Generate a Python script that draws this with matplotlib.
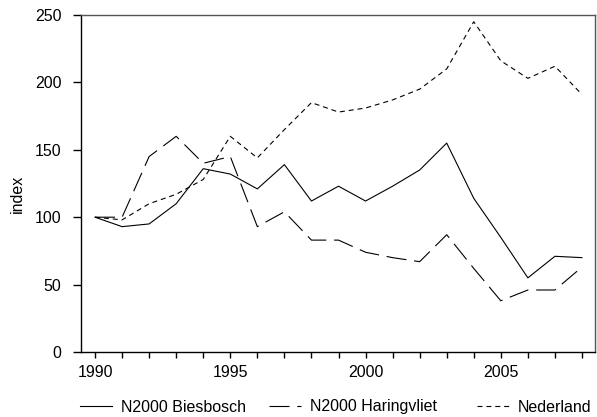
import matplotlib
matplotlib.use("Agg")
import matplotlib.pyplot as plt

years = list(range(1990, 2009))
biesbosch = [100, 93, 95, 110, 136, 132, 121, 139, 112, 123, 112, 123, 135, 155, 114, 85, 55, 71, 70]
haringvliet = [100, 100, 145, 160, 140, 145, 93, 104, 83, 83, 74, 70, 67, 87, 62, 38, 46, 46, 63]
nederland = [100, 98, 110, 117, 128, 160, 144, 165, 185, 178, 181, 187, 195, 210, 245, 216, 203, 212, 191]
labels = ["N2000 Biesbosch", "N2000 Haringvliet", "Nederland"]
xticklabels = [1990, 1995, 2000, 2005]
yticks = [0, 50, 100, 150, 200, 250]

plt.rcParams['font.family'] = ['Liberation Sans', 'DejaVu Sans']
fs = 11.5
fig = plt.figure(figsize=(5.97, 4.17), dpi=100)
ax = fig.add_axes([81/597, 1-352/417, 514/597, 337/417])

lw = 0.8
ax.plot(years, biesbosch, color='black', lw=lw, linestyle='-', label=labels[0])
ax.plot(years, haringvliet, color='black', lw=lw, linestyle=(0, (18, 7)), label=labels[1])
ax.plot(years, nederland, color='black', lw=lw, linestyle=(0, (4.5, 3.5)), label=labels[2])

ax.set_xlim(1990 - 14/27, 2008 + 13/27)
ax.set_ylim(0, 250)
ax.set_xticks(years)
ax.set_xticklabels([str(y) if y in xticklabels else '' for y in years])
ax.set_yticks(yticks)
ax.tick_params(axis='both', labelsize=fs, direction='out', width=1, colors='black')
ax.tick_params(axis='y', length=6, pad=8)
ax.tick_params(axis='x', length=4.5, pad=5)
ax.set_ylabel('index', fontsize=fs)
ax.yaxis.set_label_coords((25 - 81) / 514, 0.469)
for s in ['top', 'right']:
    ax.spines[s].set_color('#555555')
for s in ax.spines.values():
    s.set_linewidth(1)

handles, labs = ax.get_legend_handles_labels()
for h, l, xpx in zip(handles, labs, [80, 269, 477]):
    fig.legend([h], [l], loc='center left',
               bbox_to_anchor=(xpx/597, 1 - 407/417), frameon=False,
               fontsize=fs, handlelength=2.0, handletextpad=0.55,
               borderpad=0, borderaxespad=0)

fig.savefig('out.png', dpi=100)
